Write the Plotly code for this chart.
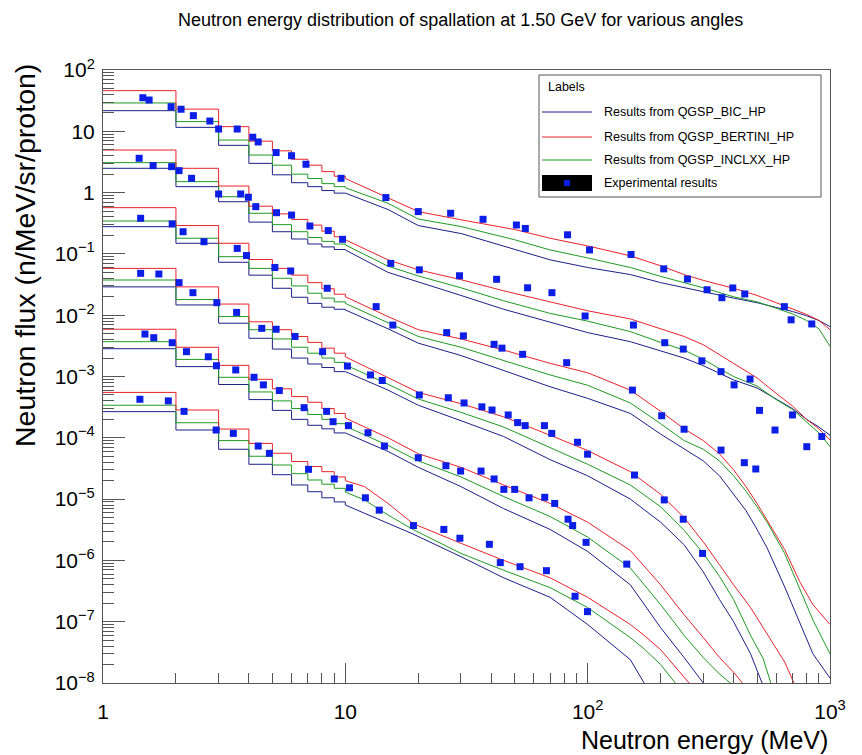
import plotly.graph_objects as go

# ---------------- data ----------------
STEP_EDGES = [1, 2, 3, 4, 5, 6, 7, 8, 9, 10]

# Group 1 (top)
g1_bic_steps = [21.7, 11.6, 5.9, 3.0, 1.95, 1.45, 1.25, 1.08, 0.98]
g1_ber_steps = [46, 23, 11.9, 6.9, 4.8, 3.5, 2.8, 2.2, 1.85]
g1_inc_steps = [29, 14.4, 7.2, 4.1, 2.8, 2.0, 1.7, 1.4, 1.25]
g1_tail_e = [10, 15, 20, 30, 50, 70, 100, 150, 200, 250, 300, 400, 500, 600, 700, 800, 900, 1000]
g1_bic_tail = [0.98, 0.53, 0.29, 0.215, 0.12, 0.08, 0.06, 0.046, 0.034, 0.028, 0.024, 0.019, 0.016, 0.0135, 0.0115, 0.0098, 0.0082, 0.0065]
g1_ber_tail = [1.7, 0.83, 0.49, 0.36, 0.25, 0.18, 0.135, 0.093, 0.064, 0.046, 0.037, 0.0275, 0.021, 0.016, 0.0128, 0.0103, 0.0082, 0.0058]
g1_inc_tail = [1.2, 0.67, 0.37, 0.28, 0.17, 0.116, 0.086, 0.06, 0.043, 0.034, 0.028, 0.02, 0.0165, 0.013, 0.0105, 0.0082, 0.006, 0.0031]
g1_exp_e = [1.46, 1.55, 1.91, 2.1, 2.36, 2.76, 3.0, 3.58, 4.15, 4.37, 5.18, 6.0, 6.88, 9.6, 14.7, 20.0, 27.2, 37.0, 50.8, 55.3, 82.6, 101.8, 151, 206, 258, 311, 358, 397, 445, 648, 691, 841]
g1_exp_v = [35.3, 32.4, 25.2, 22.9, 18.0, 14.7, 10.9, 10.9, 8.0, 6.7, 4.5, 4.0, 2.9, 1.71, 0.83, 0.49, 0.46, 0.367, 0.296, 0.26, 0.205, 0.116, 0.098, 0.057, 0.039, 0.026, 0.0193, 0.0278, 0.0222, 0.0138, 0.0084, 0.0072]

# Group 2
g2_bic_steps = [2.49, 1.25, 0.71, 0.33, 0.23, 0.175, 0.145, 0.13, 0.118]
g2_ber_steps = [4.95, 2.49, 1.28, 0.6, 0.45, 0.365, 0.295, 0.235, 0.19]
g2_inc_steps = [3.08, 1.51, 0.857, 0.46, 0.3, 0.23, 0.185, 0.16, 0.145]
g2_tail_e = [10, 15, 20, 30, 45, 70, 100, 150, 200, 250, 300, 400, 500, 600, 700, 800, 900, 1000]
g2_bic_tail = [0.116, 0.05, 0.0352, 0.021, 0.0125, 0.0078, 0.0052, 0.0037, 0.0026, 0.002, 0.0015, 0.00088, 0.00065, 0.00043, 0.0003, 0.0002, 0.00015, 0.00011]
g2_ber_tail = [0.17, 0.08, 0.055, 0.038, 0.025, 0.0166, 0.0118, 0.0087, 0.006, 0.0045, 0.0033, 0.00164, 0.00095, 0.00053, 0.00033, 0.0002, 0.00014, 0.000092]
g2_inc_tail = [0.14, 0.063, 0.0437, 0.028, 0.0172, 0.0107, 0.008, 0.0054, 0.0036, 0.0027, 0.0019, 0.001, 0.0007, 0.00042, 0.00029, 0.00018, 0.00012, 0.000072]
g2_exp_e = [1.41, 1.61, 1.92, 2.06, 2.32, 3.0, 3.7, 3.98, 4.27, 5.2, 6.0, 7.14, 8.5, 9.74, 15.4, 20.2, 29.6, 42.1, 56.5, 71.2, 97.6, 154.5, 208, 248, 296, 355, 402, 468, 512, 593, 700, 802, 925]
g2_exp_v = [3.63, 2.75, 2.65, 2.28, 1.71, 0.95, 0.95, 0.84, 0.59, 0.47, 0.43, 0.285, 0.24, 0.173, 0.070, 0.055, 0.044, 0.0385, 0.028, 0.0233, 0.0097, 0.0069, 0.00356, 0.0028, 0.0018, 0.0012, 0.00073, 0.00091, 0.00028, 0.000134, 0.000236, 0.0000716, 0.000105]

# Group 3
g3_bic_steps = [0.278, 0.149, 0.073, 0.045, 0.0275, 0.0196, 0.0156, 0.0135, 0.0125]
g3_ber_steps = [0.568, 0.29, 0.149, 0.081, 0.058, 0.045, 0.034, 0.027, 0.022]
g3_inc_steps = [0.344, 0.18, 0.09, 0.058, 0.04, 0.03, 0.0228, 0.019, 0.0165]
g3_tail_e = [10, 15, 20, 30, 45, 70, 100, 150, 200, 250, 300, 350, 400, 450, 500, 550, 650, 750, 850, 1000]
g3_bic_tail = [0.0122, 0.006, 0.0035, 0.0022, 0.00125, 0.00068, 0.00044, 0.00025, 0.000115, 6.5e-5, 4.2e-5, 2.4e-5, 1.2e-5, 6.5e-6, 3.2e-6, 1.6e-6, 3.7e-7, 1.0e-7, 3e-8, 1.2e-8]
g3_ber_tail = [0.02, 0.0095, 0.0058, 0.0041, 0.0027, 0.00164, 0.00115, 0.0006, 0.00027, 0.00014, 9e-5, 5.5e-5, 3e-5, 1.6e-5, 8.5e-6, 4.5e-6, 1.5e-6, 4.5e-7, 1.9e-7, 9e-8]
g3_inc_tail = [0.0156, 0.0075, 0.0045, 0.003, 0.0018, 0.00106, 0.00072, 0.00037, 0.00017, 9e-5, 6.5e-5, 4.2e-5, 2.4e-5, 1.35e-5, 7.5e-6, 4.2e-6, 1.3e-6, 3.3e-7, 1.07e-7, 3e-8]
g3_exp_e = [1.43, 1.93, 2.14, 2.61, 3.58, 3.91, 5.12, 5.95, 8.42, 13.4, 15.7, 26.2, 30.7, 41.1, 44.3, 53.9, 81.9, 153, 202, 250, 355, 443, 494]
g3_exp_v = [0.381, 0.308, 0.23, 0.158, 0.123, 0.094, 0.06, 0.0526, 0.0275, 0.0138, 0.0069, 0.0052, 0.0046, 0.00335, 0.0029, 0.0023, 0.00168, 0.0006, 0.000229, 0.000138, 0.000063, 0.0000393, 0.000031]

# Group 4
g4_bic_steps = [0.029, 0.0147, 0.0074, 0.0042, 0.0028, 0.002, 0.0016, 0.0014, 0.0012]
g4_ber_steps = [0.058, 0.029, 0.0152, 0.0078, 0.0058, 0.0045, 0.0036, 0.0029, 0.0024]
g4_inc_steps = [0.0375, 0.018, 0.0095, 0.0058, 0.0041, 0.003, 0.0024, 0.002, 0.0017]
g4_tail_e = [10, 15, 20, 30, 45, 70, 100, 150, 200, 250, 300, 350, 400, 470, 530, 570, 650, 710]
g4_bic_tail = [0.0012, 0.0006, 0.00034, 0.00019, 0.000105, 4.4e-5, 2.4e-5, 1.0e-5, 4.2e-6, 1.8e-6, 6.5e-7, 2.3e-7, 1.0e-7, 3e-8, 9e-9, 3e-9, 1e-9, 1e-9]
g4_ber_tail = [0.0021, 0.00095, 0.00055, 0.00036, 0.00022, 0.00011, 6.2e-5, 2.8e-5, 1.2e-5, 5e-6, 2e-6, 8.5e-7, 4e-7, 1.7e-7, 8e-8, 5e-8, 2.2e-8, 1e-8]
g4_inc_tail = [0.00155, 0.00075, 0.00043, 0.00026, 0.00015, 6.8e-5, 3.7e-5, 1.7e-5, 7.5e-6, 3.1e-6, 1.3e-6, 5.5e-7, 2.3e-7, 6e-8, 2.5e-8, 1e-8, 3e-9, 1e-9]
g4_exp_e = [1.43, 1.7, 2.06, 2.35, 2.95, 3.56, 4.52, 5.18, 6.2, 8.06, 10.2, 12.7, 14.2, 20.2, 26.6, 30.9, 36.6, 40.3, 47, 51.4, 55.2, 66.3, 71.1, 90.8, 99.9, 156, 207, 248, 298]
g4_exp_v = [0.0482, 0.047, 0.034, 0.0233, 0.016, 0.0111, 0.0061, 0.0059, 0.0045, 0.00254, 0.00148, 0.00106, 0.00086, 0.0005, 0.00045, 0.00037, 0.00032, 0.000284, 0.000236, 0.000177, 0.000158, 0.000158, 0.000118, 0.0000845, 0.000054, 0.0000247, 0.0000097, 0.0000047, 0.0000013]

# Group 5
g5_bic_steps = [0.00284, 0.00145, 0.00074, 0.00042, 0.00028, 0.0002, 0.00016, 0.00014, 0.00012]
g5_ber_steps = [0.0059, 0.003, 0.00152, 0.0009, 0.00063, 0.00047, 0.00038, 0.0003, 0.00025]
g5_inc_steps = [0.0037, 0.0019, 0.00097, 0.00056, 0.0004, 0.0003, 0.00024, 0.0002, 0.00017]
g5_tail_e = [10, 15, 20, 30, 45, 70, 100, 150, 200, 250, 300, 350, 400, 435]
g5_bic_tail = [0.00012, 6e-5, 3.3e-5, 1.6e-5, 7e-6, 3.2e-6, 1.4e-6, 4e-7, 8e-8, 2.6e-8, 1e-8, 4e-9, 2e-9, 1e-9]
g5_ber_tail = [0.00021, 0.0001, 5.5e-5, 3.3e-5, 1.7e-5, 8.5e-6, 4.2e-6, 1.45e-6, 4e-7, 1.3e-7, 5.5e-8, 2.6e-8, 1.5e-8, 1e-8]
g5_inc_tail = [0.000155, 7.5e-5, 4.2e-5, 2.3e-5, 1.1e-5, 5.2e-6, 2.4e-6, 7.5e-7, 1.9e-7, 6e-8, 2.6e-8, 1.4e-8, 9e-9, 5e-9]
g5_exp_e = [1.49, 1.62, 1.93, 2.21, 2.72, 2.94, 3.53, 4.2, 4.59, 5.34, 6.76, 8.37, 8.9, 10.3, 12.4, 14.5, 20, 26, 29.9, 36.3, 41.1, 45.1, 50, 57.3, 66.5, 73.1, 83, 86.7, 98.5, 145]
g5_exp_v = [0.00493, 0.0043, 0.00356, 0.00254, 0.0021, 0.0015, 0.00128, 0.00097, 0.00073, 0.00059, 0.00031, 0.00027, 0.000183, 0.000158, 0.000121, 0.0000734, 0.0000473, 0.000035, 0.0000287, 0.0000287, 0.0000213, 0.0000144, 0.0000144, 0.0000105, 0.0000107, 0.0000085, 0.0000047, 0.0000037, 0.00000197, 0.00000087]

# Group 6 (bottom)
g6_bic_steps = [2.67e-4, 1.34e-4, 6.5e-5, 3.7e-5, 2.5e-5, 1.7e-5, 1.32e-5, 1.05e-5, 9e-6]
g6_ber_steps = [5.5e-4, 2.84e-4, 1.39e-4, 8.1e-5, 5.6e-5, 4.1e-5, 3.4e-5, 2.8e-5, 2.3e-5]
g6_inc_steps = [3.4e-4, 1.76e-4, 9e-5, 5e-5, 3.6e-5, 2.6e-5, 2.05e-5, 1.75e-5, 1.5e-5]
g6_tail_e = [10, 12, 15, 19, 30, 45, 70, 100, 150, 171, 200, 230, 262]
g6_bic_tail = [8e-6, 5.9e-6, 4e-6, 2.7e-6, 1.15e-6, 5.2e-7, 2.5e-7, 9e-8, 2.4e-8, 1e-8, 4e-9, 2e-9, 1e-9]
g6_ber_tail = [2.0e-5, 1.6e-5, 8.5e-6, 4e-6, 1.9e-6, 1.0e-6, 5.2e-7, 2.5e-7, 9e-8, 6e-8, 3.5e-8, 1.8e-8, 1e-8]
g6_inc_tail = [1.3e-5, 9.7e-6, 5.5e-6, 3.2e-6, 1.3e-6, 6.9e-7, 3.6e-7, 1.7e-7, 5.5e-8, 3.6e-8, 2e-8, 1e-8, 4e-9]
g6_exp_e = [1.42, 1.86, 2.16, 2.93, 3.45, 4.37, 4.86, 7.05, 9.0, 10.4, 12.1, 13.8, 19.1, 25.5, 29.7, 39.3, 43.6, 52.6, 67.6, 88.7, 99.8]
g6_exp_v = [0.000425, 0.0004, 0.00027, 0.000134, 0.000118, 0.0000734, 0.0000558, 0.0000306, 0.0000213, 0.0000153, 0.0000105, 0.0000066, 0.0000037, 0.0000032, 0.0000023, 0.00000183, 0.00000092, 0.00000079, 0.00000068, 0.00000026, 0.000000146]

MODEL_NAMES = ["Results from QGSP_BIC_HP", "Results from QGSP_BERTINI_HP", "Results from QGSP_INCLXX_HP"]
EXP_NAME = "Experimental results"
TITLE = "Neutron energy distribution of spallation at 1.50 GeV for various angles"
X_TITLE = "Neutron energy (MeV)"
Y_TITLE = "Neutron flux (n/MeV/sr/proton)"
X_TICKS = [1, 10, 100, 1000]
X_TICKTEXT = ["1", "10", "10<sup>2</sup>", "10<sup>3</sup>"]
Y_EXPONENTS = [2, 1, 0, -1, -2, -3, -4, -5, -6, -7, -8]

# ---------------- styles ----------------
COL_BIC = "#1c1f86"
COL_BER = "#e8222a"
COL_INC = "#1f9a22"
COL_EXP = "#0a1ee6"
FONT = "Liberation Sans, Arial, sans-serif"

groups = [
    (g1_bic_steps, g1_ber_steps, g1_inc_steps, g1_tail_e, g1_bic_tail, g1_ber_tail, g1_inc_tail, g1_exp_e, g1_exp_v),
    (g2_bic_steps, g2_ber_steps, g2_inc_steps, g2_tail_e, g2_bic_tail, g2_ber_tail, g2_inc_tail, g2_exp_e, g2_exp_v),
    (g3_bic_steps, g3_ber_steps, g3_inc_steps, g3_tail_e, g3_bic_tail, g3_ber_tail, g3_inc_tail, g3_exp_e, g3_exp_v),
    (g4_bic_steps, g4_ber_steps, g4_inc_steps, g4_tail_e, g4_bic_tail, g4_ber_tail, g4_inc_tail, g4_exp_e, g4_exp_v),
    (g5_bic_steps, g5_ber_steps, g5_inc_steps, g5_tail_e, g5_bic_tail, g5_ber_tail, g5_inc_tail, g5_exp_e, g5_exp_v),
    (g6_bic_steps, g6_ber_steps, g6_inc_steps, g6_tail_e, g6_bic_tail, g6_ber_tail, g6_inc_tail, g6_exp_e, g6_exp_v),
]


def hist_path(steps, tail_e, tail_v):
    xs, ys = [], []
    for i, v in enumerate(steps):
        xs += [STEP_EDGES[i], STEP_EDGES[i + 1]]
        ys += [v, v]
    xs += list(tail_e)
    ys += list(tail_v)
    return xs, ys


fig = go.Figure()
for (bs, rs, gs, te, bt, rt, gt, ee, ev) in groups:
    for steps, tail, col, name in ((bs, bt, COL_BIC, MODEL_NAMES[0]),
                                   (gs, gt, COL_INC, MODEL_NAMES[2]),
                                   (rs, rt, COL_BER, MODEL_NAMES[1])):
        x, y = hist_path(steps, te, tail)
        fig.add_trace(go.Scatter(x=x, y=y, mode="lines", name=name,
                                 line=dict(color=col, width=1), hoverinfo="skip"))
for g in groups:
    fig.add_trace(go.Scatter(x=g[7], y=g[8], mode="markers", name=EXP_NAME,
                             marker=dict(symbol="square", size=7, color=COL_EXP, line=dict(width=0))))

# ---------------- axes ----------------
x_minor = [m * 10 ** k for k in range(0, 3) for m in range(2, 10)]
y_minor = [m * 10.0 ** k for k in range(-8, 2) for m in range(2, 10)]
y_vals = [10.0 ** e for e in Y_EXPONENTS]
y_text = []
for e in Y_EXPONENTS:
    if e == 0:
        y_text.append("1")
    elif e == 1:
        y_text.append("10")
    else:
        y_text.append("10<sup>" + str(e).replace("-", "\u2212") + "</sup>")

axis_common = dict(showgrid=False, zeroline=False, showline=True, mirror=True,
                   linecolor="#555555", linewidth=1, ticks="inside", tickcolor="#555555",
                   tickwidth=1, tickfont=dict(family=FONT, size=21, color="black"))

fig.update_xaxes(type="log", range=[0, 3], tickmode="array", tickvals=X_TICKS, ticktext=X_TICKTEXT,
                 ticklen=20, ticklabelstandoff=10,
                 minor=dict(ticks="inside", ticklen=10, tickcolor="#555555", tickmode="array",
                            tickvals=x_minor, showgrid=False),
                 **axis_common)
fig.update_yaxes(type="log", range=[-8, 2], tickmode="array", tickvals=y_vals, ticktext=y_text,
                 ticklen=22, ticklabelstandoff=3,
                 minor=dict(ticks="inside", ticklen=11, tickcolor="#555555", tickmode="array",
                            tickvals=y_minor, showgrid=False),
                 **axis_common)

# ---------------- layout / texts ----------------
L, R, T, B = 103, 830, 70, 683
W, H = 862, 755


def px(x):
    return (x - L) / (R - L)


def py(y):
    return (B - y) / (B - T)


shapes = []
annotations = []
# legend box
shapes.append(dict(type="rect", xref="paper", yref="paper", x0=px(539), x1=px(821), y0=py(197), y1=py(75),
                   line=dict(color="#555555", width=1), fillcolor="white", layer="above"))
annotations.append(dict(xref="paper", yref="paper", x=px(546), y=py(87), text="Labels", showarrow=False,
                        xanchor="left", yanchor="middle", font=dict(family=FONT, size=12.5, color="black")))
for yy, col, name in ((112, COL_BIC, MODEL_NAMES[0]), (137, COL_BER, MODEL_NAMES[1]), (160, COL_INC, MODEL_NAMES[2])):
    shapes.append(dict(type="line", xref="paper", yref="paper", x0=px(542), x1=px(592), y0=py(yy), y1=py(yy),
                       line=dict(color=col, width=1), layer="above"))
    annotations.append(dict(xref="paper", yref="paper", x=px(602), y=py(yy), text=name, showarrow=False,
                            xanchor="left", yanchor="middle", font=dict(family=FONT, size=12.5, color="black")))
shapes.append(dict(type="rect", xref="paper", yref="paper", x0=px(542), x1=px(592), y0=py(191), y1=py(175),
                   line=dict(color="black", width=0), fillcolor="black", layer="above"))
shapes.append(dict(type="rect", xref="paper", yref="paper", x0=px(564), x1=px(570), y0=py(186), y1=py(180),
                   line=dict(color=COL_EXP, width=0), fillcolor=COL_EXP, layer="above"))
annotations.append(dict(xref="paper", yref="paper", x=px(602), y=py(183), text=EXP_NAME, showarrow=False,
                        xanchor="left", yanchor="middle", font=dict(family=FONT, size=12.5, color="black")))
# titles
annotations.append(dict(xref="paper", yref="paper", x=px(460), y=py(20), text=TITLE, showarrow=False,
                        xanchor="center", yanchor="middle", font=dict(family=FONT, size=18, color="black")))
annotations.append(dict(xref="paper", yref="paper", x=px(830), y=py(740), text=X_TITLE, showarrow=False,
                        xanchor="right", yanchor="middle", font=dict(family=FONT, size=25, color="black")))
annotations.append(dict(xref="paper", yref="paper", x=px(25), y=py(256), text=Y_TITLE, showarrow=False,
                        textangle=-90, xanchor="center", yanchor="middle",
                        font=dict(family=FONT, size=28.5, color="black")))

fig.update_layout(width=W, height=H, margin=dict(l=L, r=W - R, t=T, b=H - B),
                  paper_bgcolor="white", plot_bgcolor="white", showlegend=False,
                  shapes=shapes, annotations=annotations)

fig.write_html("out.html", config={"displayModeBar": False},
               post_script="document.body.style.margin='0px';document.body.style.overflow='hidden';")
